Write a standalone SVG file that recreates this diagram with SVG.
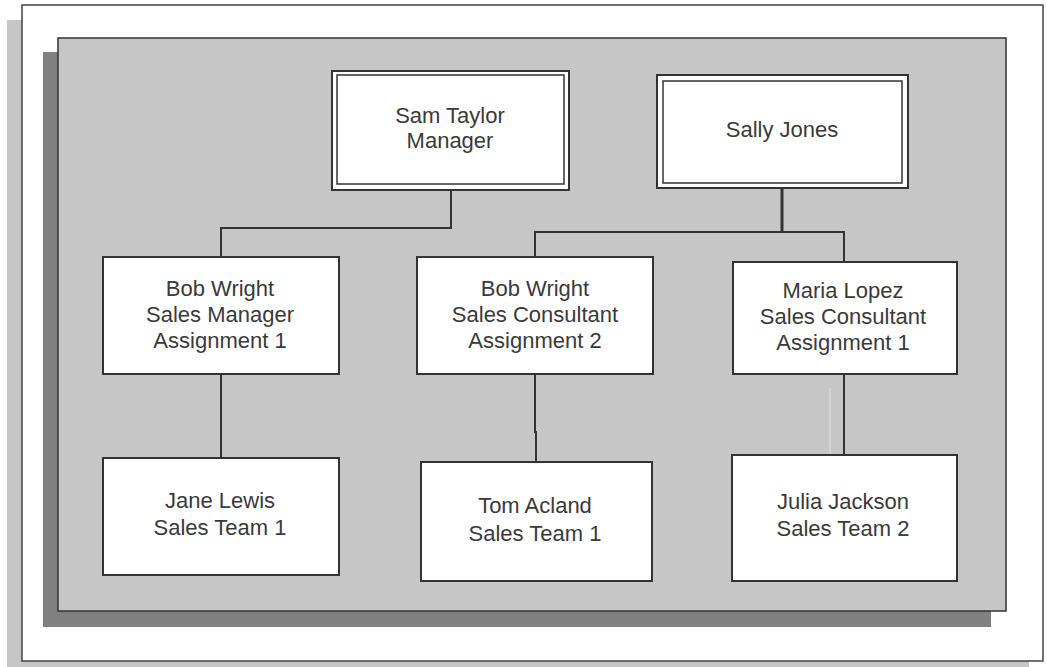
<svg xmlns="http://www.w3.org/2000/svg" width="1047" height="667" viewBox="0 0 1047 667">
  <style>
    .box { fill: #ffffff; stroke: #333333; stroke-width: 2; }
    .dbl { fill: none; stroke: #333333; stroke-width: 1.5; }
    .lbl { font-family: "Liberation Sans", Arial, sans-serif; font-size: 22px; fill: #3a3a3a; text-anchor: middle; }
    .con { fill: none; stroke: #333333; stroke-width: 2; }
  </style>
  <rect x="0" y="0" width="1047" height="667" fill="#ffffff"/>
  <!-- outer frame with shadow -->
  <rect x="7" y="20" width="1022" height="660" fill="#c6c6c6"/>
  <rect x="22" y="5" width="1021" height="656" fill="#ffffff" stroke="#444444" stroke-width="1.5"/>
  <!-- gray panel with shadow -->
  <rect x="43" y="52" width="948" height="575" fill="#808080"/>
  <rect x="58" y="38" width="948" height="573" fill="#c6c6c6" stroke="#333333" stroke-width="1.5"/>

  <g id="connectors">
    <polyline class="con" points="451,190 451,228 221,228 221,257"/>
    <polyline class="con" points="782,188 782,232" style="stroke-width:3"/>
    <polyline class="con" points="535,257 535,232 844,232 844,262"/>
    <line class="con" x1="221" y1="374" x2="221" y2="458"/>
    <polyline class="con" points="535,374 535,432 536,432 536,462"/>
    <line class="con" x1="844" y1="374" x2="844" y2="455"/>
    <line x1="830" y1="388" x2="830" y2="470" stroke="#e0e0e0" stroke-width="1"/>
  </g>

  <g id="sam-taylor">
    <rect class="box" x="332" y="71" width="237" height="119"/>
    <rect class="dbl" x="337" y="75" width="227" height="109"/>
    <text class="lbl" x="450" y="123">Sam Taylor</text>
    <text class="lbl" x="450" y="148">Manager</text>
  </g>
  <g id="sally-jones">
    <rect class="box" x="657" y="75" width="251" height="113"/>
    <rect class="dbl" x="663" y="81" width="239" height="102"/>
    <text class="lbl" x="782" y="137">Sally Jones</text>
  </g>
  <g id="bob-wright-1">
    <rect class="box" x="103" y="257" width="236" height="117"/>
    <text class="lbl" x="220" y="296">Bob Wright</text>
    <text class="lbl" x="220" y="322">Sales Manager</text>
    <text class="lbl" x="220" y="348">Assignment 1</text>
  </g>
  <g id="bob-wright-2">
    <rect class="box" x="417" y="257" width="236" height="117"/>
    <text class="lbl" x="535" y="296">Bob Wright</text>
    <text class="lbl" x="535" y="322">Sales Consultant</text>
    <text class="lbl" x="535" y="348">Assignment 2</text>
  </g>
  <g id="maria-lopez">
    <rect class="box" x="733" y="262" width="224" height="112"/>
    <text class="lbl" x="843" y="298">Maria Lopez</text>
    <text class="lbl" x="843" y="324">Sales Consultant</text>
    <text class="lbl" x="843" y="350">Assignment 1</text>
  </g>
  <g id="jane-lewis">
    <rect class="box" x="103" y="458" width="236" height="117"/>
    <text class="lbl" x="220" y="508">Jane Lewis</text>
    <text class="lbl" x="220" y="535">Sales Team 1</text>
  </g>
  <g id="tom-acland">
    <rect class="box" x="421" y="462" width="231" height="119"/>
    <text class="lbl" x="535" y="513">Tom Acland</text>
    <text class="lbl" x="535" y="541">Sales Team 1</text>
  </g>
  <g id="julia-jackson">
    <rect class="box" x="732" y="455" width="225" height="126"/>
    <text class="lbl" x="843" y="509">Julia Jackson</text>
    <text class="lbl" x="843" y="536">Sales Team 2</text>
  </g>
</svg>
